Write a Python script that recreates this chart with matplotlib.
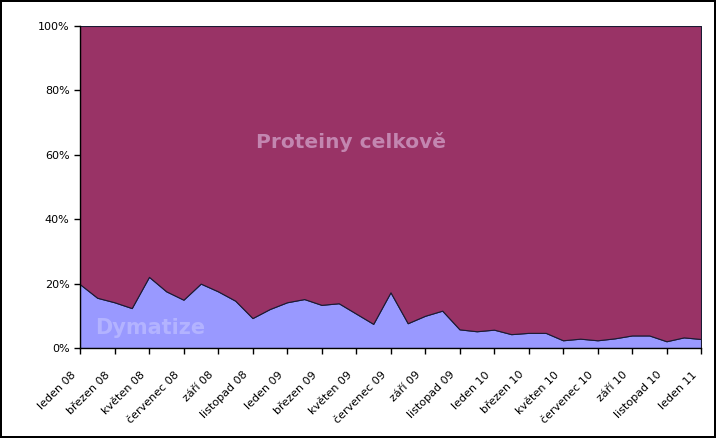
import numpy as np
import matplotlib.pyplot as plt
import matplotlib.transforms as mtransforms
from matplotlib.ticker import PercentFormatter

# share of Dymatize in % (monthly, leden 08 .. leden 11)
months = ['leden 08', 'únor 08', 'březen 08', 'duben 08', 'květen 08', 'červen 08',
          'červenec 08', 'srpen 08', 'září 08', 'říjen 08', 'listopad 08', 'prosinec 08',
          'leden 09', 'únor 09', 'březen 09', 'duben 09', 'květen 09', 'červen 09',
          'červenec 09', 'srpen 09', 'září 09', 'říjen 09', 'listopad 09', 'prosinec 09',
          'leden 10', 'únor 10', 'březen 10', 'duben 10', 'květen 10', 'červen 10',
          'červenec 10', 'srpen 10', 'září 10', 'říjen 10', 'listopad 10', 'prosinec 10',
          'leden 11']
dymatize = [19.8, 15.6, 14.2, 12.4, 22.1, 17.6, 15.0, 20.0, 17.6, 14.7, 9.3, 12.1,
            14.2, 15.2, 13.4, 13.9, 10.7, 7.5, 17.3, 7.7, 10.0, 11.6, 5.8, 5.2,
            5.7, 4.3, 4.7, 4.7, 2.4, 2.9, 2.4, 3.0, 3.9, 3.9, 2.1, 3.3, 2.8]
proteiny = [100 - d for d in dymatize]

x = np.arange(len(months))

fig = plt.figure(figsize=(7.16, 4.38), dpi=100)
fig.patch.set_edgecolor('black')
fig.patch.set_linewidth(1.5)
ax = fig.add_axes([80/716, 90/438, 621/716, 322/438])

ax.stackplot(x, dymatize, proteiny, colors=['#9999ff', '#993366'],
             edgecolor='#1a1a33', linewidth=0.8)

ax.set_xlim(0, len(months) - 1)
ax.set_ylim(0, 100)
ax.set_yticks(range(0, 101, 20))
ax.yaxis.set_major_formatter(PercentFormatter(decimals=0))
ax.set_xticks(x[::2])
ax.set_xticklabels(months[::2], rotation=45, ha='right', va='center',
                   rotation_mode='anchor')

ax.tick_params(axis='both', direction='out', length=4, width=1, labelsize=8,
               colors='black')
ax.tick_params(axis='x', pad=14)
# nudge the rotated labels a little to the left, like the original
shift = mtransforms.ScaledTranslation(-6/100, 0, fig.dpi_scale_trans)
for lbl in ax.get_xticklabels():
    lbl.set_transform(lbl.get_transform() + shift)

for s in ['top', 'right']:
    ax.spines[s].set_visible(False)
ax.spines['left'].set_linewidth(1)
ax.spines['bottom'].set_linewidth(1)

ax.text(15.7, 64, 'Proteiny celkově', color='#c386b0', fontsize=14.5,
        fontweight='bold', ha='center', va='center')
ax.text(4.06, 6.2, 'Dymatize', color='#b3b3ff', fontsize=15,
        fontweight='bold', ha='center', va='center')

fig.savefig('out.png', dpi=100, edgecolor=fig.get_edgecolor())
